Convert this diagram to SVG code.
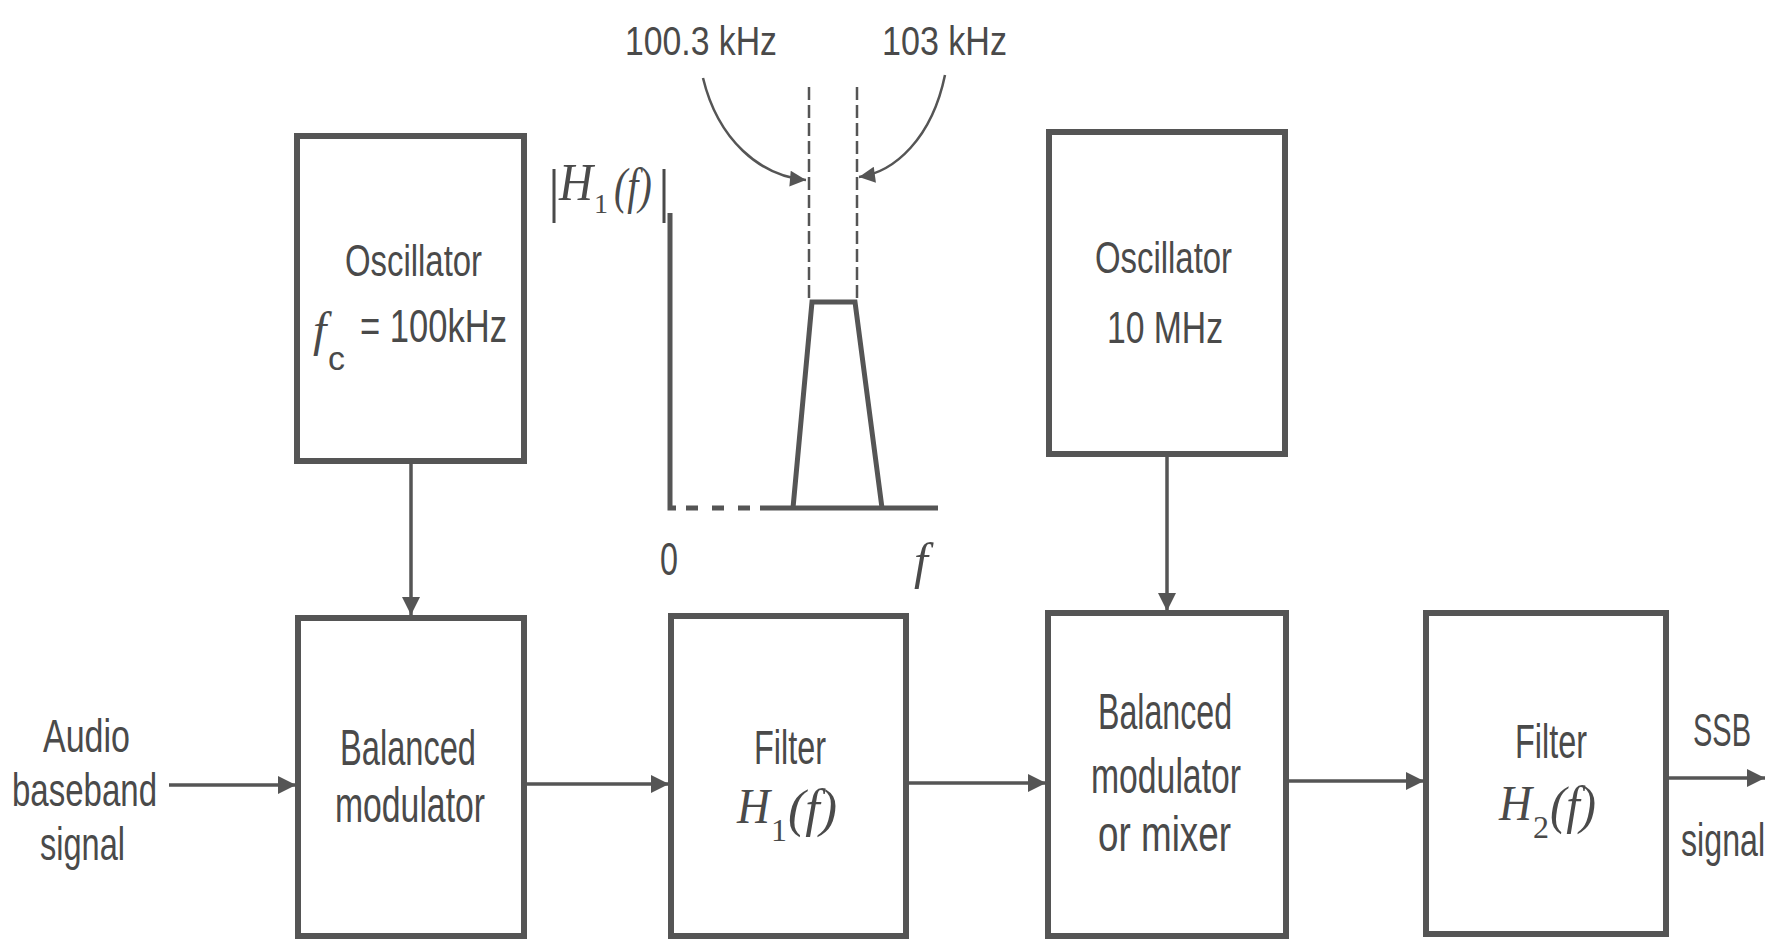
<svg xmlns="http://www.w3.org/2000/svg" width="1779" height="947" viewBox="0 0 1779 947">
<defs>
<style>
.box{fill:#fff;stroke:#555;stroke-width:6}
.t{font-family:"Liberation Sans",Arial,sans-serif;fill:#4a4a4a}
.m{font-family:"Liberation Serif","Times New Roman",serif;font-style:italic;fill:#4a4a4a}
.u{font-family:"Liberation Serif","Times New Roman",serif;fill:#4a4a4a}
.c{fill:none;stroke:#555;stroke-width:3.5}
.cv{fill:none;stroke:#555;stroke-width:2.5}
.g{fill:none;stroke:#555;stroke-width:5}
.gd{fill:none;stroke:#555;stroke-width:2.5;stroke-dasharray:13 5}
</style>
<marker id="ah" viewBox="0 0 10 10" refX="10" refY="5" markerUnits="userSpaceOnUse" markerWidth="28" markerHeight="18" orient="auto">
<path d="M0,0 L10,5 L0,10 z" fill="#555"/>
</marker>
<marker id="ahs" viewBox="0 0 10 10" refX="10" refY="5" markerUnits="userSpaceOnUse" markerWidth="24" markerHeight="16" orient="auto">
<path d="M0,0 L10,5 L0,10 z" fill="#555"/>
</marker>
</defs>
<rect width="1779" height="947" fill="#fff"/>

<g id="osc1">
<rect class="box" x="297" y="136" width="227" height="325"/>
<text class="t" x="345" y="276" font-size="44" textLength="137" lengthAdjust="spacingAndGlyphs">Oscillator</text>
<text class="m" x="313" y="346" font-size="48">f</text>
<text class="t" x="328" y="370" font-size="34">c</text>
<text class="t" x="360" y="342" font-size="46" textLength="147" lengthAdjust="spacingAndGlyphs">= 100kHz</text>
</g>

<g id="osc2">
<rect class="box" x="1049" y="132" width="236" height="322"/>
<text class="t" x="1095" y="273" font-size="44" textLength="137" lengthAdjust="spacingAndGlyphs">Oscillator</text>
<text class="t" x="1107" y="343" font-size="44" textLength="116" lengthAdjust="spacingAndGlyphs">10 MHz</text>
</g>

<g id="balmod">
<rect class="box" x="298" y="618" width="226" height="318"/>
<text class="t" x="340" y="765" font-size="50" textLength="136" lengthAdjust="spacingAndGlyphs">Balanced</text>
<text class="t" x="335" y="822" font-size="50" textLength="150" lengthAdjust="spacingAndGlyphs">modulator</text>
</g>

<g id="filter1">
<rect class="box" x="671" y="616" width="235" height="320"/>
<text class="t" x="754" y="764" font-size="48" textLength="72" lengthAdjust="spacingAndGlyphs">Filter</text>
<text class="m" x="737" y="823" font-size="50" textLength="33" lengthAdjust="spacingAndGlyphs">H</text>
<text class="u" x="771" y="841" font-size="32">1</text>
<text class="m" x="788" y="826" font-size="52" textLength="49" lengthAdjust="spacingAndGlyphs">(f)</text>
</g>

<g id="mixer">
<rect class="box" x="1048" y="613" width="238" height="323"/>
<text class="t" x="1098" y="729" font-size="50" textLength="134" lengthAdjust="spacingAndGlyphs">Balanced</text>
<text class="t" x="1091" y="793" font-size="50" textLength="150" lengthAdjust="spacingAndGlyphs">modulator</text>
<text class="t" x="1098" y="851" font-size="50" textLength="133" lengthAdjust="spacingAndGlyphs">or mixer</text>
</g>

<g id="filter2">
<rect class="box" x="1426" y="613" width="240" height="321"/>
<text class="t" x="1515" y="758" font-size="48" textLength="72" lengthAdjust="spacingAndGlyphs">Filter</text>
<text class="m" x="1499" y="820" font-size="50" textLength="33" lengthAdjust="spacingAndGlyphs">H</text>
<text class="u" x="1533" y="838" font-size="32">2</text>
<text class="m" x="1550" y="823" font-size="52" textLength="46" lengthAdjust="spacingAndGlyphs">(f)</text>
</g>

<g id="input">
<text class="t" x="43" y="752" font-size="46" textLength="87" lengthAdjust="spacingAndGlyphs">Audio</text>
<text class="t" x="12" y="806" font-size="46" textLength="145" lengthAdjust="spacingAndGlyphs">baseband</text>
<text class="t" x="40" y="860" font-size="46" textLength="85" lengthAdjust="spacingAndGlyphs">signal</text>
</g>

<g id="output">
<text class="t" transform="translate(1693,746) scale(0.63,1)" font-size="46">SSB</text>
<text class="t" transform="translate(1681,856) scale(0.7,1)" font-size="46">signal</text>
</g>

<g id="response">
<text class="u" x="548" y="210" font-size="60">|</text>
<text class="m" x="559" y="200" font-size="52" textLength="34" lengthAdjust="spacingAndGlyphs">H</text>
<text class="u" x="594" y="213" font-size="28">1</text>
<text class="m" transform="translate(614,203) scale(0.8,1)" font-size="50">(f)</text>
<text class="u" x="658" y="210" font-size="60">|</text>
<path class="g" d="M670,213 L670,508 L676,508"/>
<path class="g" d="M686,508 L698,508 M712,508 L724,508 M738,508 L750,508"/>
<path class="g" d="M760,508 L938,508"/>
<path class="g" d="M793,508 L812,302 L855,302 L882,508"/>
<path class="gd" d="M809,87 L809,302"/>
<path class="gd" d="M857,87 L857,302"/>
<text class="t" x="660" y="575" font-size="46" textLength="18" lengthAdjust="spacingAndGlyphs">0</text>
<text class="m" x="914" y="578" font-size="50">f</text>
<text class="t" x="625" y="55" font-size="40" textLength="152" lengthAdjust="spacingAndGlyphs">100.3 kHz</text>
<text class="t" x="882" y="55" font-size="40" textLength="125" lengthAdjust="spacingAndGlyphs">103 kHz</text>
<path class="cv" d="M703,78 C718,140 760,176 806,180" marker-end="url(#ahs)"/>
<path class="cv" d="M945,75 C932,138 895,172 859,177" marker-end="url(#ahs)"/>
</g>

<g id="connectors">
<path class="c" d="M169,785 L296,785" marker-end="url(#ah)"/>
<path class="c" d="M527,784 L669,784" marker-end="url(#ah)"/>
<path class="c" d="M908,783 L1046,783" marker-end="url(#ah)"/>
<path class="c" d="M1288,781 L1424,781" marker-end="url(#ah)"/>
<path class="c" d="M1668,778 L1765,778" marker-end="url(#ah)"/>
<path class="c" d="M411,463 L411,615" marker-end="url(#ah)"/>
<path class="c" d="M1167,456 L1167,611" marker-end="url(#ah)"/>
</g>
</svg>
